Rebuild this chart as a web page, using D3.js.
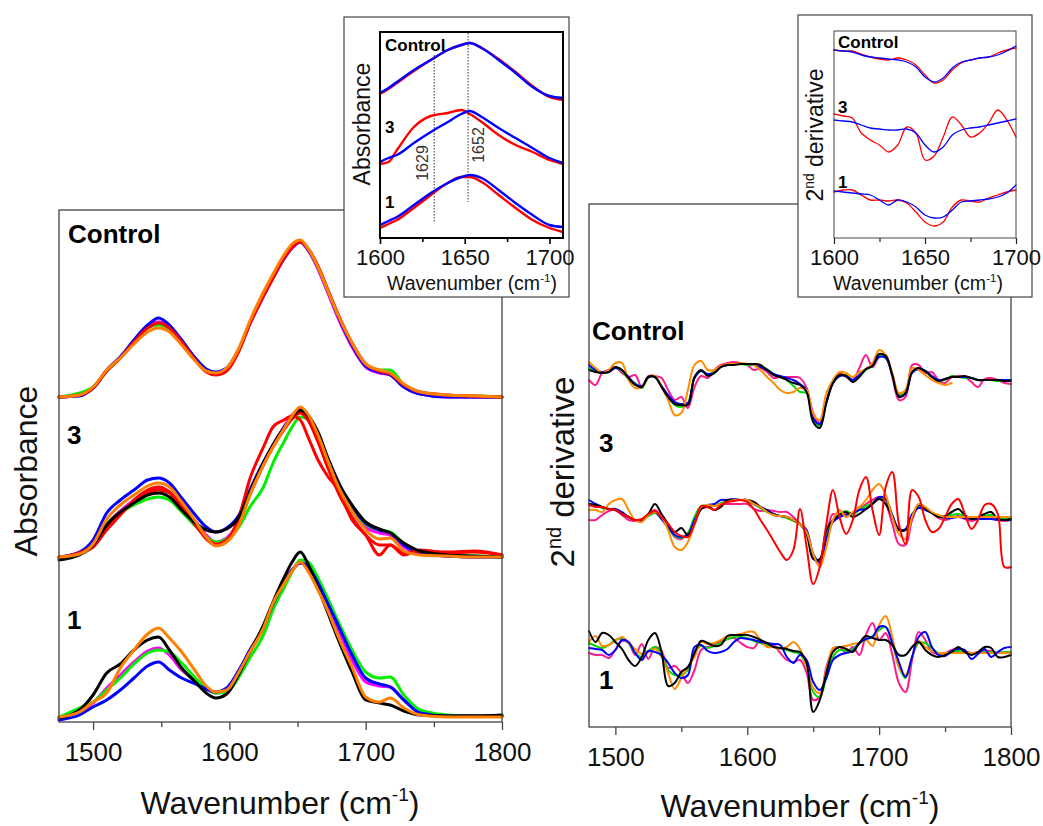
<!DOCTYPE html>
<html>
<head>
<meta charset="utf-8">
<script src="https://cdn.jsdelivr.net/npm/d3@7"></script>
<style>
  body { margin: 0; background: #fff; }
  svg { display: block; font-family: "Liberation Sans", Arial, sans-serif; }
</style>
</head>
<body>
<svg id="fig" width="1043" height="826"></svg>
<script>
// FTIR amide region: absorbance (left) and 2nd derivative (right), two insets.

// ---------- data ----------

const groupNames = ["Control", "3", "1"];

// Left panel: absorbance, stacked with an offset per group
const absWn = [1475,1490,1500,1510,1520,1530,1540,1548,1556,1565,1575,1583,1590,1598,1607,1615,1625,1632,1640,1646,1652,1658,1665,1672,1680,1690,1700,1710,1718,1728,1740,1760,1780,1800];
const absOffsets = [3.25, 1.65, 0.05];

const absCtrlBlack   = [0,0.02,0.09,0.26,0.39,0.55,0.70,0.73,0.69,0.55, 0.38,0.27,0.24,0.28,0.47,0.73,1.01,1.19,1.38,1.49, 1.55,1.47,1.29,1.06,0.80,0.52,0.31,0.25,0.23,0.11, 0.04,0.01,0,0];
const absCtrlMagenta = [0,0.02,0.09,0.27,0.40,0.56,0.71,0.75,0.70,0.56, 0.38,0.27,0.24,0.28,0.47,0.73,1.01,1.19,1.38,1.49, 1.55,1.46,1.28,1.05,0.78,0.50,0.30,0.24,0.22,0.10, 0.03,0,0,0];
const absCtrlGreen   = [0,0.04,0.10,0.26,0.40,0.55,0.69,0.72,0.68,0.55, 0.38,0.27,0.24,0.28,0.47,0.74,1.02,1.20,1.39,1.50, 1.55,1.47,1.30,1.08,0.81,0.53,0.32,0.27,0.27,0.12, 0.04,0.01,0.01,0];
const absCtrlBlue    = [0,0.01,0.09,0.27,0.40,0.57,0.72,0.79,0.72,0.57, 0.39,0.28,0.25,0.29,0.48,0.74,1.02,1.20,1.39,1.50, 1.55,1.47,1.30,1.07,0.80,0.52,0.31,0.25,0.22,0.10, 0.03,0,0,0];
const absCtrlRed     = [0,0.02,0.09,0.26,0.39,0.55,0.69,0.74,0.69,0.55, 0.37,0.25,0.22,0.26,0.46,0.73,1.01,1.19,1.39,1.50, 1.55,1.48,1.31,1.08,0.82,0.54,0.33,0.26,0.23,0.12, 0.05,0.02,0.01,0];
const absCtrlOrange  = [0,0.02,0.10,0.27,0.39,0.53,0.65,0.69,0.65,0.52, 0.36,0.26,0.24,0.29,0.49,0.76,1.05,1.23,1.42,1.53, 1.57,1.48,1.30,1.07,0.81,0.54,0.33,0.27,0.24,0.13, 0.05,0.02,0.01,0];

const absG3Magenta = [0,0.03,0.12,0.33,0.46,0.57,0.66,0.69,0.65,0.52, 0.36,0.22,0.15,0.19,0.36,0.64,0.94,1.12,1.30,1.42, 1.48,1.41,1.23,0.98,0.72,0.47,0.30,0.24,0.22,0.10, 0.03,0.01,0,0];
const absG3Green   = [0,0.03,0.11,0.33,0.44,0.52,0.58,0.60,0.57,0.45, 0.31,0.20,0.15,0.18,0.30,0.50,0.70,0.94,1.15,1.30, 1.40,1.38,1.22,0.98,0.72,0.49,0.33,0.27,0.25,0.13, 0.05,0.02,0.01,0];
const absG3Blue    = [0,0.05,0.17,0.44,0.57,0.67,0.77,0.79,0.74,0.59, 0.42,0.30,0.25,0.29,0.42,0.67,0.95,1.12,1.29,1.39, 1.46,1.39,1.20,0.99,0.75,0.49,0.34,0.27,0.24,0.12, 0.04,0.01,0,0];
const absG3RedA    = [-0.01,0.04,0.10,0.27,0.42,0.57,0.67,0.70,0.65,0.50, 0.32,0.19,0.13,0.17,0.40,0.78,1.10,1.30,1.37,1.41, 1.37,1.19,0.97,0.81,0.67,0.37,0.22,0.02,0.12,0.04, 0.06,0.05,0.06,0.02];
const absG3RedB    = [0,0.04,0.12,0.30,0.43,0.55,0.64,0.67,0.64,0.50, 0.33,0.18,0.12,0.16,0.33,0.62,0.92,1.10,1.27,1.38, 1.44,1.36,1.15,0.90,0.64,0.40,0.22,0.12,0.12,0.02, 0.07,0.04,0.05,0.02];
const absG3Black   = [-0.03,0.02,0.12,0.32,0.45,0.54,0.62,0.64,0.60,0.47, 0.34,0.27,0.25,0.28,0.40,0.65,0.94,1.12,1.29,1.40, 1.47,1.41,1.25,1.00,0.74,0.52,0.35,0.28,0.24,0.14, 0.06,0.02,0.01,0];
const absG3Orange  = [0,0.03,0.13,0.38,0.52,0.62,0.71,0.74,0.70,0.55, 0.36,0.20,0.11,0.15,0.32,0.62,0.92,1.10,1.28,1.41, 1.50,1.42,1.22,0.97,0.70,0.46,0.27,0.18,0.19,0.06, 0.02,0.01,0,0];

const absG1Magenta = [0,0.05,0.14,0.29,0.42,0.55,0.66,0.69,0.62,0.47, 0.37,0.28,0.24,0.27,0.45,0.65,0.89,1.13,1.34,1.47, 1.54,1.49,1.32,1.11,0.87,0.57,0.35,0.31,0.30,0.17, 0.04,0.01,0.01,0.01];
const absG1Green   = [0,0.09,0.15,0.27,0.39,0.53,0.64,0.67,0.65,0.54, 0.39,0.29,0.24,0.25,0.40,0.59,0.82,1.07,1.29,1.45, 1.57,1.55,1.39,1.19,0.95,0.67,0.45,0.39,0.40,0.22, 0.07,0.02,0.01,0.01];
const absG1Blue    = [-0.03,0.02,0.10,0.17,0.27,0.39,0.51,0.55,0.47,0.39, 0.33,0.28,0.25,0.29,0.47,0.67,0.90,1.13,1.34,1.47, 1.54,1.50,1.34,1.14,0.91,0.62,0.39,0.33,0.30,0.17, 0.04,0.01,0.01,0.01];
const absG1Black   = [-0.01,0.07,0.22,0.44,0.53,0.67,0.77,0.80,0.67,0.49, 0.35,0.24,0.19,0.23,0.43,0.65,0.92,1.15,1.39,1.55, 1.65,1.52,1.29,1.05,0.77,0.45,0.17,0.14,0.12,0.06, 0.02,0.01,0.01,0.02];
const absG1Orange  = [0,0.05,0.15,0.24,0.49,0.67,0.83,0.89,0.79,0.65, 0.46,0.31,0.25,0.27,0.45,0.65,0.89,1.14,1.33,1.46, 1.55,1.45,1.27,1.07,0.80,0.50,0.20,0.15,0.19,0.09, 0.02,0,0,0];

// Right panel: 2nd derivative (arb. units), stacked with an offset per group
const derWn = [1480,1485,1490,1495,1500,1505,1510,1515,1520,1525,1530,1535,1540,1545,1550,1555,1560,1565,1570,1575,1580,1585,1590,1595,1600,1605,1610,1615,1620,1625,1630,1635,1640,1645,1650,1655,1660,1665,1670,1675,1680,1685,1690,1695,1700,1705,1710,1715,1720,1725,1730,1735,1740,1745,1750,1755,1760,1765,1770,1775,1780,1785,1790,1795,1800];
const derOffsets = [34.7, 21.0, 7.7];

const derCtrlPink   = [0.0,-0.5,0.7,1.0,1.3,0.7,0.3,0.5,-0.7,0.4, 0.4,0.2,-1.0,-2.0,-1.7,-2.8,-0.7,0.4,0.2,1.0, 1.5,1.7,1.8,1.7,1.5,1.0,1.2,0.8,0.2,0.3, 0.3,0.3,0.2,-0.8,-3.3,-4.3,-2.0,-0.3,0.7,0.3, 0.0,1.2,2.5,1.3,2.3,2.5,0.3,-2.0,-1.7,1.5, 1.5,0.7,0.8,0.0,-0.3,0.3,0.4,0.3,-0.2,-0.7, 0.1,0.2,0.0,-0.3,-0.4];
const derCtrlGreen  = [1.2,0.9,0.7,0.9,1.2,0.9,0.1,-0.3,-0.8,0.2, 0.3,-0.6,-1.6,-2.5,-2.7,-2.3,0.2,0.9,0.6,0.8, 1.3,1.5,1.6,1.6,1.5,1.5,1.4,1.1,0.6,0.3, 0.0,-0.6,-1.2,-1.3,-3.9,-4.6,-2.2,-0.3,0.4,0.5, 0.0,0.4,1.0,1.4,2.4,2.2,0.6,-1.5,-1.2,0.8, 1.1,0.9,0.3,0.0,0.0,0.4,0.3,0.2,0.2,0.0, 0.0,0.0,-0.1,0.0,0.0];
const derCtrlBlue   = [1.5,1.0,0.8,0.8,1.2,1.0,0.3,-0.4,-0.6,0.3, 0.3,-0.6,-1.5,-2.2,-2.4,-2.3,0.2,0.9,0.6,0.7, 1.3,1.5,1.6,1.6,1.6,1.5,1.3,1.0,0.6,0.4, 0.2,0.0,-0.4,-1.0,-3.8,-4.4,-2.2,-0.3,0.4,0.4, 0.0,0.5,1.1,1.5,2.3,2.2,0.5,-1.6,-1.4,0.7, 1.1,0.9,0.4,0.0,0.1,0.3,0.3,0.3,0.2,0.0, 0.0,0.0,0.0,0.0,0.0];
const derCtrlOrange = [1.8,1.2,0.7,1.0,1.7,1.7,0.0,-0.8,-0.7,0.3, 0.4,-0.7,-2.0,-3.5,-3.3,-1.0,1.5,1.9,1.0,1.0, 1.4,1.6,1.6,1.7,1.6,1.5,1.0,0.3,-0.3,-1.0, -1.3,-1.2,-0.8,-1.0,-3.4,-4.0,-1.3,0.0,0.8,0.7, 0.3,0.8,1.1,1.7,3.0,2.5,0.7,-1.3,-1.0,1.2, 1.0,0.5,0.0,-0.3,-0.5,-0.3,null,null,null,null, null,null,null,null,null];
const derCtrlBlack  = [1.0,0.8,0.7,0.8,1.3,1.0,0.2,-0.5,-0.7,0.3, 0.3,-0.7,-1.7,-2.4,-2.5,-2.5,0.3,1.0,0.4,0.7, 1.3,1.5,1.5,1.6,1.6,1.6,1.5,1.0,0.5,0.3, 0.0,-0.3,-0.5,-1.2,-4.2,-4.8,-2.3,-0.3,0.5,0.4, -0.2,0.3,1.1,1.4,2.6,2.4,0.5,-1.7,-1.3,0.8, 1.2,0.9,0.3,-0.1,0.1,0.3,0.3,0.4,0.2,0.0, 0.0,0.0,0.0,-0.1,-0.1];

const derG3Pink   = [-0.3,-0.3,0.2,0.6,0.7,0.2,-0.3,-0.4,-0.3,0.3, 0.7,0.0,-0.8,-2.0,-2.2,-1.6,-0.3,0.8,1.0,1.2, 1.3,1.3,1.3,1.3,1.3,0.8,0.6,0.7,0.6,0.5, 0.5,0.0,-0.7,-1.5,-4.0,-4.7,-1.8,0.3,0.0,0.4, 0.3,0.8,1.3,1.7,2.0,1.3,-0.7,-2.7,-2.8,-0.3, 1.0,0.8,0.4,-0.1,-0.3,-0.1,0.1,-0.2,-0.4,-0.2, 0.0,-0.1,-0.3,-0.4,-0.3];
const derG3Green  = [1.3,1.2,0.9,0.8,0.7,0.4,0.0,-0.3,-0.4,0.1, 0.4,-0.2,-1.1,-1.9,-2.1,-1.6,0.0,1.1,1.1,1.1, 1.4,1.6,1.7,1.7,1.6,1.3,0.9,0.5,0.3,0.1, -0.1,-0.4,-0.7,-1.5,-3.8,-4.4,-2.0,-0.3,0.3,0.6, 0.3,0.7,1.1,1.4,1.9,1.7,0.1,-1.3,-1.3,0.1, 1.0,0.8,0.4,0.1,0.0,0.2,0.3,0.1,-0.1,-0.1, 0.1,0.2,-0.1,-0.2,-0.2];
const derG3Blue   = [1.7,1.3,1.0,0.8,0.8,0.5,0.0,-0.3,-0.3,0.2, 0.5,-0.2,-1.0,-1.8,-2.0,-1.8,-0.3,0.8,1.2,1.3, 1.7,1.7,1.8,1.7,1.7,1.3,1.0,0.7,0.3,0.1, 0.0,-0.3,-0.7,-1.3,-3.7,-4.5,-2.2,-0.5,0.0,0.2, 0.4,0.7,0.8,1.3,2.0,1.8,0.2,-1.2,-1.2,0.3, 0.9,0.7,0.4,0.1,-0.1,-0.1,0.0,-0.1,-0.2,-0.2, -0.2,-0.2,-0.3,-0.3,-0.3];
const derG3Black  = [1.3,1.2,1.0,0.8,0.7,0.3,0.0,-0.3,-0.3,0.3, 1.3,0.3,-0.7,-1.5,-1.1,-1.8,-0.7,0.8,1.1,0.7, 1.0,1.7,1.7,1.7,1.7,1.5,1.0,0.6,0.2,0.1, 0.0,-0.3,-0.7,-1.7,-4.2,-4.2,-1.3,-0.3,0.2,0.5, 0.0,0.3,0.8,1.3,1.8,1.3,0.0,-1.3,-1.3,0.0, 1.2,0.8,0.4,0.0,0.1,0.5,0.8,0.2,-0.2,0.0, 0.3,0.5,-0.2,-0.3,-0.2];
const derG3Red    = [1.2,1.0,1.0,0.8,0.7,0.3,0.0,-0.3,-0.2,0.3, 0.6,0.0,-0.7,-1.5,-1.9,-2.0,-0.7,1.1,1.0,0.7, 1.2,1.5,1.6,1.7,1.5,0.8,-0.3,-1.3,-2.4,-3.5, -4.3,-3.3,0.8,-3.0,-6.7,-5.0,-0.7,2.7,0.0,-1.7, -0.3,2.7,4.0,0.7,-1.8,3.0,4.5,-0.7,-2.7,2.7, 2.0,-0.3,-1.5,-1.2,0.0,1.3,1.8,0.3,-1.2,-0.3, 1.2,1.3,0.3,-5.0,-5.0];
const derG3Orange = [0.7,0.7,0.5,1.3,1.7,1.8,0.7,-0.3,-0.5,0.2, 0.5,0.0,-1.3,-3.0,-3.3,-2.5,-0.7,1.0,1.2,1.1, 1.3,1.5,1.7,1.7,1.7,1.3,1.0,0.5,0.2,0.1, 0.0,-0.3,-0.7,-1.5,-3.7,-5.0,-3.0,-0.3,0.7,0.0, 0.5,1.0,1.7,2.7,3.3,2.2,0.0,-1.7,-2.2,0.0, 1.3,1.0,0.5,0.2,0.0,0.0,0.0,0.0,0.0,0.0, 0.0,0.0,0.0,0.0,0.0];

const derG1Pink   = [-0.3,-0.5,-0.5,-0.8,0.0,0.9,0.7,-0.5,0.6,-0.9, 0.3,-0.1,-1.8,-1.6,-2.3,-3.3,-2.0,0.0,0.3,0.5, 0.9,1.1,1.2,0.7,0.3,0.2,1.0,0.4,0.5,-0.3, -1.0,-1.2,-1.0,-2.3,-5.0,-4.7,-1.7,-0.1,0.3,-0.3, 0.3,-0.5,1.5,2.7,1.0,1.7,-0.5,-3.3,-4.2,-1.0, 1.8,1.0,-0.2,-0.4,-0.3,0.0,0.2,-0.1,-0.3,-0.2, -0.1,-0.1,-0.3,-0.2,-0.2];
const derG1Green  = [0.7,0.4,0.2,0.5,1.0,1.1,0.7,-0.3,-0.7,-0.1, 0.3,-0.3,-2.0,-2.5,-2.5,-2.0,-0.2,0.4,0.2,0.4, 0.7,1.1,1.3,1.3,1.2,0.9,0.7,0.5,0.3,0.2, 0.0,-0.2,-0.4,-1.7,-4.2,-4.7,-2.7,-0.7,0.0,-0.1, 0.1,0.7,1.0,1.4,2.0,2.3,0.7,-1.7,-2.8,-0.7, 0.7,0.7,0.2,-0.3,-0.3,-0.2,-0.1,-0.3,-0.4,-0.3, -0.2,-0.2,-0.3,-0.2,-0.2];
const derG1Orange = [0.8,1.4,0.4,0.5,0.9,1.3,0.7,0.1,-0.4,-0.2, 0.1,-0.7,-2.3,-3.9,-2.8,-1.7,-0.7,0.8,0.6,0.7, 1.0,1.4,1.5,1.6,1.8,1.8,1.0,0.3,0.3,0.1, 0.3,0.8,0.1,-1.7,-3.8,-4.3,-2.0,0.2,0.3,0.4, 0.6,0.7,1.0,0.4,2.5,3.4,1.3,-1.7,-2.5,-0.7, 0.9,0.3,-0.1,-0.3,-0.3,-0.3,-0.3,-0.3,-0.3,-0.3, -0.3,-0.3,-0.3,-0.3,-0.3];
const derG1Blue   = [0.2,0.1,0.0,-0.5,0.0,1.0,0.8,-0.3,-1.0,-0.1, -0.2,-0.5,-1.3,-2.3,-2.8,-2.5,0.3,0.5,-0.1,-0.3, -0.2,0.1,0.8,1.2,1.1,1.0,0.8,0.7,0.6,0.5, -0.7,-1.3,-0.5,-1.0,-3.2,-4.0,-2.8,-1.0,-0.5,-0.3, -0.1,0.7,1.1,1.3,2.3,2.3,0.7,-1.2,-2.7,-0.7, 1.3,1.8,0.3,-0.5,-0.6,-0.1,0.1,0.0,-0.9,-0.4, 0.1,-0.7,-0.2,0.2,0.3];
const derG1Black  = [1.9,0.8,1.7,1.5,0.8,0.1,-1.0,-1.6,-0.7,1.0, 1.7,-0.2,-3.6,-3.3,-2.2,-1.7,-0.3,0.9,0.7,0.4, 0.5,1.4,1.5,1.5,1.5,1.3,1.0,0.7,0.3,0.2, 0.1,-0.1,-0.2,-1.3,-6.2,-5.0,-2.3,-0.2,0.3,0.1, -0.2,0.7,1.4,1.2,1.0,1.0,0.5,-0.5,-0.5,0.3, 0.8,0.0,-0.5,-0.7,-0.5,-0.2,0.3,-0.2,-0.5,-0.2, 0.3,0.2,-0.7,-0.7,-0.5];

// Inset 1: absorbance, 1600-1710 (already stacked)
const insAbsWn = [1600,1605,1610,1620,1630,1640,1648,1653,1660,1670,1680,1690,1700,1708];
const insAbsCtrlRed  = [1.44,1.49,1.55,1.67,1.78,1.88,1.93,1.95,1.90,1.79,1.66,1.52,1.41,1.38];
const insAbsCtrlBlue = [1.45,1.50,1.56,1.68,1.78,1.88,1.93,1.95,1.90,1.78,1.65,1.51,1.42,1.40];
const insAbsG3Red    = [0.74,0.76,0.88,1.11,1.22,1.25,1.28,1.24,1.16,1.03,0.93,0.86,0.78,0.74];
const insAbsG3Blue   = [0.76,0.80,0.83,0.95,1.06,1.16,1.24,1.27,1.21,1.10,1.00,0.90,0.80,0.75];
const insAbsG1Red    = [0.10,0.14,0.18,0.30,0.43,0.55,0.61,0.61,0.56,0.43,0.30,0.18,0.10,0.06];
const insAbsG1Blue   = [0.13,0.17,0.21,0.33,0.45,0.55,0.61,0.63,0.60,0.48,0.35,0.23,0.13,0.11];
const insAbsMarks    = [1632, 1652];
const insAbsMarkText = ["1629", "1652"];
const insAbsMarkTop  = [1.83, 2.05];
const insAbsMarkBot  = [0.15, 0.36];

// Inset 2: 2nd derivative, 1600-1700 (already stacked)
const insDerWn = [1600,1605,1610,1615,1620,1625,1630,1635,1640,1645,1650,1655,1660,1665,1670,1675,1680,1685,1690,1695,1700];
const insDerCtrlRed  = [1.88,1.87,1.87,1.84,1.81,1.79,1.78,1.80,1.78,1.73,1.63,1.55,1.58,1.68,1.75,1.78,1.80,1.81,1.85,1.88,1.90];
const insDerCtrlBlue = [1.88,1.87,1.86,1.83,1.81,1.80,1.79,1.78,1.76,1.71,1.61,1.56,1.60,1.70,1.76,1.78,1.80,1.81,1.83,1.87,1.92];
const insDerG3Red    = [1.24,1.22,1.20,1.05,0.98,0.93,0.86,0.93,1.11,1.05,0.78,0.82,1.01,1.21,1.13,1.01,1.05,1.15,1.28,1.18,1.01];
const insDerG3Blue   = [1.18,1.17,1.16,1.13,1.10,1.09,1.08,1.08,1.09,1.05,0.93,0.86,0.91,1.03,1.08,1.10,1.11,1.13,1.15,1.17,1.19];
const insDerG1Red    = [0.46,0.48,0.48,0.43,0.38,0.38,0.37,0.38,0.35,0.26,0.16,0.12,0.16,0.31,0.38,0.37,0.36,0.40,0.43,0.46,0.48];
const insDerG1Blue   = [0.47,0.46,0.45,0.44,0.43,0.38,0.33,0.38,0.36,0.31,0.23,0.20,0.21,0.28,0.36,0.37,0.38,0.39,0.41,0.45,0.53];

// ---------- styles ----------

const col = {
    black: "#000000", red: "#ff0000", blue: "#0000ff", green: "#00f000",
    magenta: "#ff00ff", orange: "#ff8000", pink: "#ff1a8c", green2: "#00d800", orange2: "#ff8c00"
};
const FONT = "'Liberation Sans', Arial, sans-serif";

// Series tables built from the arrays above (draw order = list order)
const absSeries = [
    [0, absCtrlBlack, col.black], [0, absCtrlMagenta, col.magenta], [0, absCtrlGreen, col.green],
    [0, absCtrlBlue, col.blue], [0, absCtrlRed, col.red], [0, absCtrlOrange, col.orange],
    [1, absG3Magenta, col.magenta], [1, absG3Green, col.green], [1, absG3Blue, col.blue],
    [1, absG3RedA, col.red], [1, absG3RedB, col.red], [1, absG3Black, col.black], [1, absG3Orange, col.orange],
    [2, absG1Magenta, col.magenta], [2, absG1Green, col.green], [2, absG1Blue, col.blue],
    [2, absG1Black, col.black], [2, absG1Orange, col.orange]
];
const derSeries = [
    [0, derCtrlPink, col.pink], [0, derCtrlGreen, col.green2], [0, derCtrlBlue, col.blue],
    [0, derCtrlOrange, col.orange2], [0, derCtrlBlack, col.black],
    [1, derG3Pink, col.pink], [1, derG3Green, col.green2], [1, derG3Blue, col.blue],
    [1, derG3Black, col.black], [1, derG3Orange, col.orange2], [1, derG3Red, col.red],
    [2, derG1Pink, col.pink], [2, derG1Green, col.green2], [2, derG1Orange, col.orange2],
    [2, derG1Blue, col.blue], [2, derG1Black, col.black]
];
const insAbsSeries = [
    [insAbsCtrlRed, col.red], [insAbsCtrlBlue, col.blue],
    [insAbsG3Red, col.red], [insAbsG3Blue, col.blue],
    [insAbsG1Red, col.red], [insAbsG1Blue, col.blue]
];
const insDerSeries = [
    [insDerCtrlRed, col.red], [insDerCtrlBlue, col.blue],
    [insDerG3Red, col.red], [insDerG3Blue, col.blue],
    [insDerG1Red, col.red], [insDerG1Blue, col.blue]
];

// ---------- helpers ----------

const svg = d3.select("#fig");

function makePanel(xDomain, xRange, yDomain, yRange) {
    const g = svg.append("g");
    const x = d3.scaleLinear().domain(xDomain).range(xRange);
    const y = d3.scaleLinear().domain(yDomain).range(yRange);
    return { g, x, y };
}

function frame(p, stroke, width) {
    const [x0, x1] = p.x.range();
    const [y0, y1] = p.y.range();
    p.g.append("rect")
        .attr("x", x0).attr("y", y1)
        .attr("width", x1 - x0).attr("height", y0 - y1)
        .attr("fill", "none").attr("stroke", stroke).attr("stroke-width", width);
}

function bottomAxis(p, majors, minors, majLen, minLen, fontSize, labelBase, stroke, sw) {
    const axisY = p.y.range()[0];
    const gMin = p.g.append("g").attr("transform", `translate(0,${axisY})`)
        .call(d3.axisBottom(p.x).tickValues(minors).tickSize(minLen).tickFormat(""));
    const gMaj = p.g.append("g").attr("transform", `translate(0,${axisY})`)
        .call(d3.axisBottom(p.x).tickValues(majors).tickSize(majLen).tickFormat(d3.format("d")));
    [gMin, gMaj].forEach(ga => {
        ga.select(".domain").remove();
        ga.selectAll("line").attr("stroke", stroke).attr("stroke-width", sw);
    });
    gMaj.selectAll("text")
        .attr("y", labelBase - axisY).attr("dy", null)
        .attr("fill", "#111").style("font-size", fontSize + "px").style("font-family", FONT);
}

function wavenumberTitle(g, cx, baseY, fs) {
    const t = g.append("text").attr("x", cx).attr("y", baseY)
        .attr("text-anchor", "middle").attr("fill", "#111")
        .style("font-size", fs + "px").style("font-family", FONT);
    t.append("tspan").text("Wavenumber (cm");
    t.append("tspan").attr("dy", -0.42 * fs).style("font-size", (0.6 * fs) + "px").text("-1");
    t.append("tspan").attr("dy", 0.42 * fs).text(")");
}

function yTitle(g, bx, cy, fs, sup) {
    const t = g.append("text")
        .attr("transform", `translate(${bx},${cy}) rotate(-90)`)
        .attr("text-anchor", "middle").attr("fill", "#111")
        .style("font-size", fs + "px").style("font-family", FONT);
    if (sup) {
        t.append("tspan").text("2");
        t.append("tspan").attr("dy", -0.4 * fs).style("font-size", (0.6 * fs) + "px").text("nd");
        t.append("tspan").attr("dy", 0.4 * fs).text(" derivative");
    } else {
        t.text("Absorbance");
    }
}

function groupLabel(g, x, y, fs, text) {
    g.append("text").attr("x", x).attr("y", y)
        .attr("fill", "#000").attr("font-weight", "bold")
        .style("font-size", fs + "px").style("font-family", FONT)
        .text(text);
}

function drawSeries(p, wn, values, offset, color, width, curve) {
    const pts = wn.map((w, i) => ({ w, v: values[i] }));
    const line = d3.line()
        .defined(d => d.v !== null)
        .x(d => p.x(d.w))
        .y(d => p.y(d.v + offset))
        .curve(curve);
    p.g.append("path").datum(pts)
        .attr("fill", "none").attr("stroke", color)
        .attr("stroke-width", width)
        .attr("stroke-linejoin", "round").attr("stroke-linecap", "round")
        .attr("d", line);
}

// ---------- left: absorbance ----------

const pA = makePanel([1475, 1800], [59, 502], [0, 5.12], [722, 210]);
absSeries.forEach(([gi, vals, c]) => drawSeries(pA, absWn, vals, absOffsets[gi], c, 3, d3.curveMonotoneX));
frame(pA, "#444", 1.3);
bottomAxis(pA, [1500, 1600, 1700, 1800], [1550, 1650, 1750], 8, 5, 26, 761, "#444", 1.3);
wavenumberTitle(pA.g, 280, 814, 32);
yTitle(pA.g, 37, 471, 32, false);
groupLabel(pA.g, 68, 243, 26, groupNames[0]);
groupLabel(pA.g, 67, 444, 26, groupNames[1]);
groupLabel(pA.g, 67, 629, 26, groupNames[2]);

// ---------- right: 2nd derivative ----------

const pD = makePanel([1480, 1800], [589, 1011], [0, 52.3], [727, 204]);
derSeries.forEach(([gi, vals, c]) => drawSeries(pD, derWn, vals, derOffsets[gi], c, 2, d3.curveCatmullRom.alpha(0.5)));
frame(pD, "#444", 1.3);
bottomAxis(pD, [1500, 1600, 1700, 1800], [1550, 1650, 1750], 8, 5, 26, 766, "#444", 1.3);
wavenumberTitle(pD.g, 800, 817, 32);
yTitle(pD.g, 574, 472, 33, true);
groupLabel(pD.g, 592, 340, 26, groupNames[0]);
groupLabel(pD.g, 599, 452, 26, groupNames[1]);
groupLabel(pD.g, 599, 689, 26, groupNames[2]);

// ---------- inset: absorbance ----------

svg.append("rect").attr("x", 344).attr("y", 17).attr("width", 225).attr("height", 280)
    .attr("fill", "#fff").attr("stroke", "#444").attr("stroke-width", 1.2);
const pIA = makePanel([1600, 1708], [380, 563], [0, 2.06], [238, 32]);
insAbsMarks.forEach((m, i) => {
    pIA.g.append("line")
        .attr("x1", pIA.x(m)).attr("x2", pIA.x(m))
        .attr("y1", pIA.y(insAbsMarkTop[i])).attr("y2", pIA.y(insAbsMarkBot[i]))
        .attr("stroke", "#555").attr("stroke-width", 1.2).attr("stroke-dasharray", "1.5,1.5");
});
insAbsSeries.forEach(([vals, c]) => drawSeries(pIA, insAbsWn, vals, 0, c, 2.4, d3.curveMonotoneX));
frame(pIA, "#000", 2);
bottomAxis(pIA, [1600, 1650, 1700], [1625, 1675], 6, 4, 22, 265, "#000", 1.6);
wavenumberTitle(pIA.g, 472, 290, 19.5);
yTitle(pIA.g, 370, 124, 23, false);
groupLabel(pIA.g, 385, 51, 17, groupNames[0]);
groupLabel(pIA.g, 385, 133, 17, groupNames[1]);
groupLabel(pIA.g, 385, 208, 17, groupNames[2]);
const markLabelPos = [[422, 163], [478, 145]];
insAbsMarkText.forEach((t, i) => {
    pIA.g.append("text")
        .attr("transform", `translate(${markLabelPos[i][0]},${markLabelPos[i][1]}) rotate(-90)`)
        .attr("text-anchor", "middle").attr("dominant-baseline", "central")
        .attr("fill", "#333").style("font-size", "16px").style("font-family", FONT)
        .text(t);
});

// ---------- inset: 2nd derivative ----------

svg.append("rect").attr("x", 798).attr("y", 15).attr("width", 234).attr("height", 282)
    .attr("fill", "#fff").attr("stroke", "#444").attr("stroke-width", 1.2);
const pID = makePanel([1600, 1700], [834, 1016], [0, 2.07], [238, 31]);
insDerSeries.forEach(([vals, c]) => drawSeries(pID, insDerWn, vals, 0, c, 1.3, d3.curveCatmullRom.alpha(0.5)));
frame(pID, "#444", 1);
bottomAxis(pID, [1600, 1650, 1700], [1625, 1675], 6, 4, 22, 265, "#222", 1.2);
wavenumberTitle(pID.g, 918, 290, 19.5);
yTitle(pID.g, 823, 135, 23, true);
groupLabel(pID.g, 838, 48, 17, groupNames[0]);
groupLabel(pID.g, 838, 113, 17, groupNames[1]);
groupLabel(pID.g, 838, 188, 17, groupNames[2]);
</script>
</body>
</html>
